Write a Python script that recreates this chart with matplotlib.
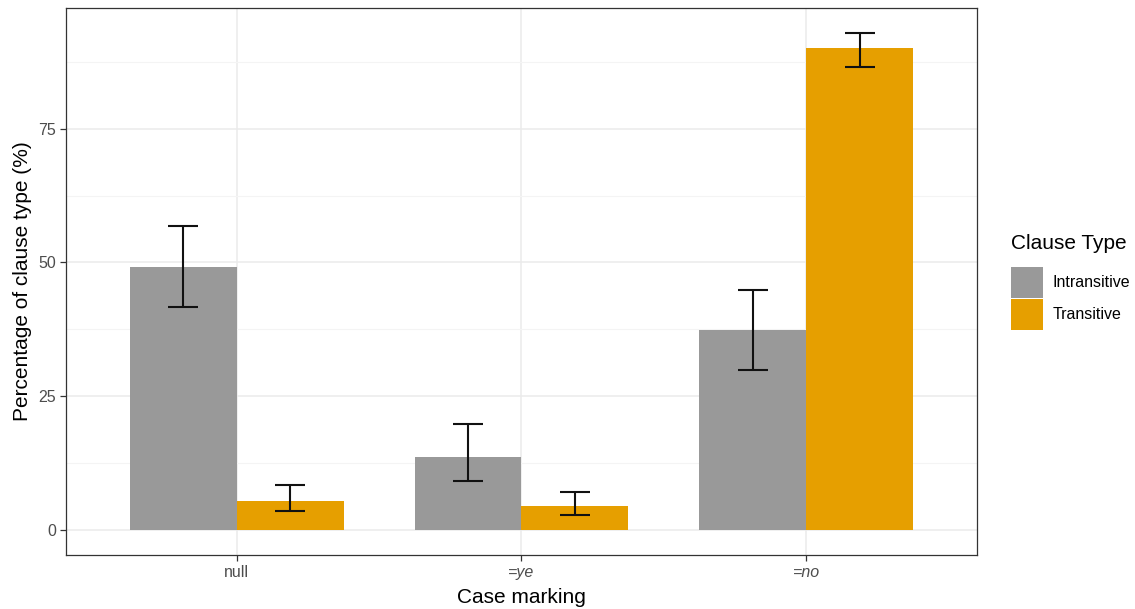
import matplotlib.pyplot as plt
from matplotlib.patches import Patch
import numpy as np

plt.rcParams['font.family'] = ['Liberation Sans', 'DejaVu Sans']

# data
categories = ['null', '=ye', '=no']
clause_types = ['Intransitive', 'Transitive']
intransitive = [49.2, 13.6, 37.3]
intransitive_lo = [41.6, 9.1, 30.0]
intransitive_hi = [56.9, 19.8, 44.8]
transitive = [5.5, 4.5, 90.0]
transitive_lo = [3.5, 2.8, 86.6]
transitive_hi = [8.4, 7.2, 92.9]

colors = ['#999999', '#E69F00']

fig = plt.figure(figsize=(11.35, 6.09), dpi=100)
ax = fig.add_axes([0.0581, 0.0887, 0.8027, 0.8982])

x = np.arange(1, len(categories) + 1)
w = 0.375

series = [
    (intransitive, intransitive_lo, intransitive_hi),
    (transitive, transitive_lo, transitive_hi),
]
for i, (vals, lo, hi) in enumerate(series):
    pos = x + (i - 0.5) * w
    ax.bar(pos, vals, width=w, color=colors[i], zorder=2, align='center')
    vals = np.array(vals)
    yerr = [vals - np.array(lo), np.array(hi) - vals]
    ax.errorbar(pos, vals, yerr=yerr, fmt='none', ecolor='#111111',
                elinewidth=1.5, capsize=10.5, capthick=1.5, zorder=3)

ax.set_xlim(0.4, 3.6)
ax.set_ylim(-4.65, 97.55)

ax.set_yticks([0, 25, 50, 75])
ax.set_yticks([12.5, 37.5, 62.5, 87.5], minor=True)
ax.set_xticks(x)
ax.set_xticklabels(categories)
for lbl in ax.get_xticklabels()[1:]:
    lbl.set_style('italic')

ax.grid(True, which='major', color='#EBEBEB', linewidth=1.1, zorder=0)
ax.grid(True, which='minor', axis='y', color='#F4F4F4', linewidth=0.8, zorder=0)
ax.set_axisbelow(True)

for s in ax.spines.values():
    s.set_color('#333333')
    s.set_linewidth(0.9)

ax.tick_params(axis='both', which='major', length=4, width=0.9, color='#333333',
               labelsize=11.5, labelcolor='#4D4D4D', pad=3)
ax.tick_params(axis='both', which='minor', length=0)

ax.set_xlabel('Case marking', fontsize=15, labelpad=6)
ax.set_ylabel('Percentage of clause type (%)', fontsize=15, labelpad=5)

handles = [Patch(facecolor=c, edgecolor='none') for c in colors]
leg = fig.legend(handles, clause_types, title='Clause Type',
                 loc='center left', bbox_to_anchor=(0.884, 0.537),
                 frameon=False, fontsize=11.5, title_fontsize=15,
                 handlelength=2.0, handleheight=2.6, handletextpad=0.6,
                 labelspacing=0.05, borderpad=0)
leg._legend_box.align = 'left'
leg._legend_box.sep = 10

fig.savefig('out.png', dpi=100)
